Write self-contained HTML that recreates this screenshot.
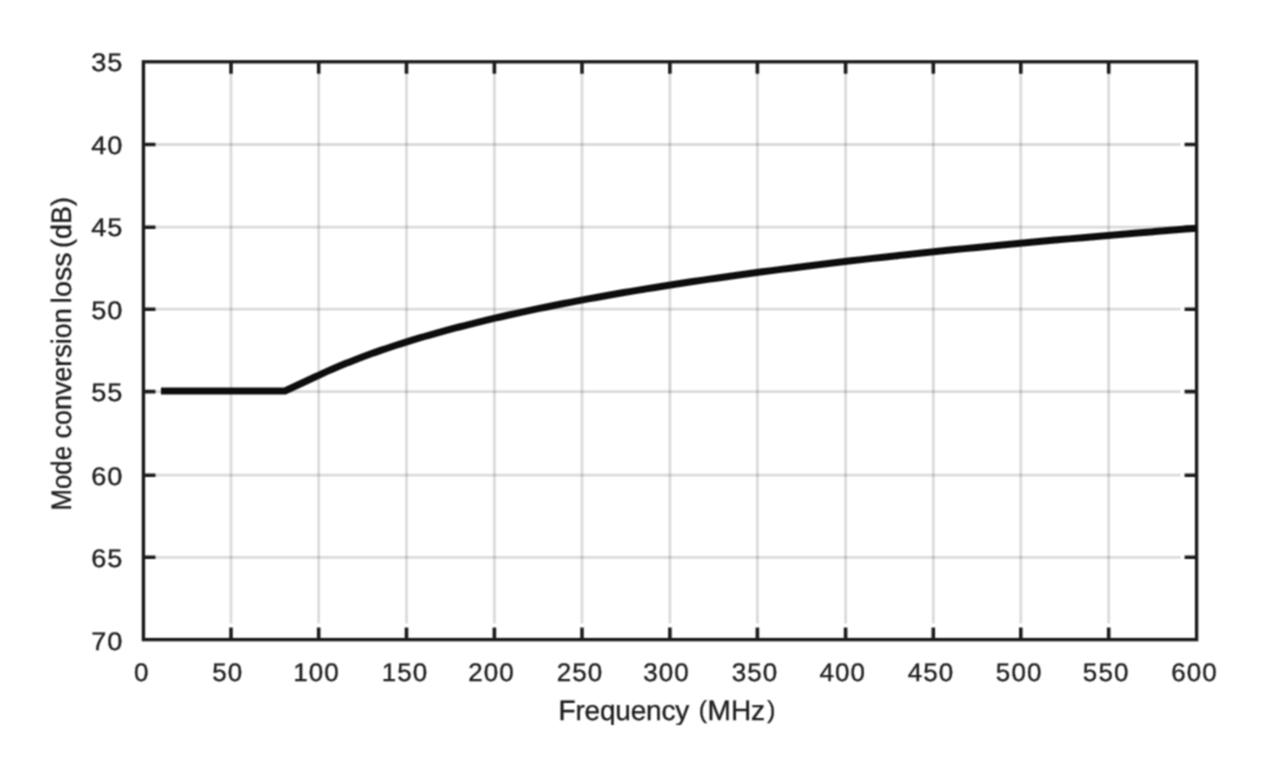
<!DOCTYPE html><html><head><meta charset="utf-8"><style>html,body{margin:0;padding:0;background:#fff;overflow:hidden}svg{display:block;font-family:"Liberation Sans",sans-serif}</style></head><body><svg width="1265" height="767" viewBox="0 0 1265 767"><defs><filter id="b" x="0" y="0" width="1265" height="767" filterUnits="userSpaceOnUse"><feConvolveMatrix order="3" kernelMatrix="1 2 1 2 4 2 1 2 1" divisor="16" edgeMode="none"/></filter></defs><rect width="1265" height="767" fill="#fff"/><g filter="url(#b)"><path d="M231.00 61.80V623.60" stroke="#000" stroke-opacity="0.14" stroke-width="2.8" fill="none"/><path d="M318.70 61.80V623.60" stroke="#000" stroke-opacity="0.14" stroke-width="2.8" fill="none"/><path d="M406.50 61.80V623.60" stroke="#000" stroke-opacity="0.14" stroke-width="2.8" fill="none"/><path d="M494.40 61.80V623.60" stroke="#000" stroke-opacity="0.14" stroke-width="2.8" fill="none"/><path d="M582.00 61.80V623.60" stroke="#000" stroke-opacity="0.14" stroke-width="2.8" fill="none"/><path d="M669.90 61.80V623.60" stroke="#000" stroke-opacity="0.14" stroke-width="2.8" fill="none"/><path d="M757.40 61.80V623.60" stroke="#000" stroke-opacity="0.14" stroke-width="2.8" fill="none"/><path d="M845.60 61.80V623.60" stroke="#000" stroke-opacity="0.14" stroke-width="2.8" fill="none"/><path d="M933.30 61.80V623.60" stroke="#000" stroke-opacity="0.14" stroke-width="2.8" fill="none"/><path d="M1020.80 61.80V623.60" stroke="#000" stroke-opacity="0.14" stroke-width="2.8" fill="none"/><path d="M1108.70 61.80V623.60" stroke="#000" stroke-opacity="0.14" stroke-width="2.8" fill="none"/><path d="M143.44 144.50H1180.60" stroke="#000" stroke-opacity="0.14" stroke-width="2.8" fill="none"/><path d="M143.44 227.20H1180.60" stroke="#000" stroke-opacity="0.14" stroke-width="2.8" fill="none"/><path d="M143.44 309.20H1180.60" stroke="#000" stroke-opacity="0.14" stroke-width="2.8" fill="none"/><path d="M143.44 391.60H1180.60" stroke="#000" stroke-opacity="0.14" stroke-width="2.8" fill="none"/><path d="M143.44 475.20H1180.60" stroke="#000" stroke-opacity="0.14" stroke-width="2.8" fill="none"/><path d="M143.44 557.30H1180.60" stroke="#000" stroke-opacity="0.14" stroke-width="2.8" fill="none"/><path d="M231.00 61.80v12M231.00 639.60v-12M318.70 61.80v12M318.70 639.60v-12M406.50 61.80v12M406.50 639.60v-12M494.40 61.80v12M494.40 639.60v-12M582.00 61.80v12M582.00 639.60v-12M669.90 61.80v12M669.90 639.60v-12M757.40 61.80v12M757.40 639.60v-12M845.60 61.80v12M845.60 639.60v-12M933.30 61.80v12M933.30 639.60v-12M1020.80 61.80v12M1020.80 639.60v-12M1108.70 61.80v12M1108.70 639.60v-12M143.44 144.50h12M1196.60 144.50h-12M143.44 227.20h12M1196.60 227.20h-12M143.44 309.20h12M1196.60 309.20h-12M143.44 391.60h12M1196.60 391.60h-12M143.44 475.20h12M1196.60 475.20h-12M143.44 557.30h12M1196.60 557.30h-12" stroke="#1f1f1f" stroke-width="3.6" fill="none"/><rect x="143.44" y="61.80" width="1053.16" height="577.80" stroke="#1f1f1f" stroke-width="3.4" fill="none"/><path d="M160.99 391.00 L284.91 391.00 L315.46 376.77 L318.04 375.55 L320.66 374.33 L323.31 373.11 L326.01 371.89 L328.75 370.67 L331.53 369.45 L334.35 368.23 L337.21 367.01 L340.12 365.79 L343.07 364.57 L346.07 363.35 L349.11 362.13 L352.19 360.91 L355.32 359.69 L358.50 358.47 L361.73 357.25 L365.00 356.03 L368.32 354.81 L371.70 353.58 L375.12 352.36 L378.60 351.14 L382.12 349.92 L385.70 348.70 L389.34 347.48 L393.03 346.26 L396.77 345.04 L400.57 343.82 L404.43 342.60 L408.34 341.38 L412.32 340.16 L416.35 338.94 L420.44 337.72 L424.60 336.50 L428.81 335.28 L433.09 334.06 L437.44 332.84 L441.85 331.62 L446.33 330.40 L450.87 329.18 L455.48 327.96 L460.16 326.74 L464.91 325.52 L469.73 324.30 L474.63 323.08 L479.60 321.85 L484.64 320.63 L489.76 319.41 L494.95 318.19 L500.22 316.97 L505.58 315.75 L511.01 314.53 L516.52 313.31 L522.12 312.09 L527.80 310.87 L533.56 309.65 L539.41 308.43 L545.35 307.21 L551.38 305.99 L557.50 304.77 L563.71 303.55 L570.02 302.33 L576.42 301.11 L582.91 299.89 L589.50 298.67 L596.19 297.45 L602.98 296.23 L609.88 295.01 L616.87 293.79 L623.98 292.57 L631.18 291.35 L638.50 290.12 L645.93 288.90 L653.46 287.68 L661.11 286.46 L668.88 285.24 L676.76 284.02 L684.76 282.80 L692.88 281.58 L701.12 280.36 L709.49 279.14 L717.98 277.92 L726.60 276.70 L735.34 275.48 L744.22 274.26 L753.23 273.04 L762.38 271.82 L771.66 270.60 L781.09 269.38 L790.65 268.16 L800.36 266.94 L810.21 265.72 L820.22 264.50 L830.37 263.28 L840.67 262.06 L851.13 260.84 L861.75 259.62 L872.52 258.39 L883.46 257.17 L894.56 255.95 L905.82 254.73 L917.26 253.51 L928.87 252.29 L940.65 251.07 L952.61 249.85 L964.74 248.63 L977.06 247.41 L989.57 246.19 L1002.26 244.97 L1015.14 243.75 L1028.22 242.53 L1041.49 241.31 L1054.96 240.09 L1068.63 238.87 L1082.51 237.65 L1096.60 236.43 L1110.89 235.21 L1125.41 233.99 L1140.13 232.77 L1155.09 231.55 L1170.26 230.33 L1185.66 229.11 L1196.60 228.25" stroke="#111111" stroke-width="7.0" fill="none" stroke-linejoin="round"/><g font-family="Liberation Sans, sans-serif" font-size="25.6" fill="#1e1e1e" stroke="#1e1e1e" stroke-width="0.35" text-rendering="geometricPrecision"><text transform="translate(123.25 71.25) scale(1.06 1)" text-anchor="end" letter-spacing="0.9">35</text><text transform="translate(123.25 153.88) scale(1.06 1)" text-anchor="end" letter-spacing="0.9">40</text><text transform="translate(123.25 235.81) scale(1.06 1)" text-anchor="end" letter-spacing="0.9">45</text><text transform="translate(123.25 319.14) scale(1.06 1)" text-anchor="end" letter-spacing="0.9">50</text><text transform="translate(123.25 401.27) scale(1.06 1)" text-anchor="end" letter-spacing="0.9">55</text><text transform="translate(123.25 484.70) scale(1.06 1)" text-anchor="end" letter-spacing="0.9">60</text><text transform="translate(123.25 567.03) scale(1.06 1)" text-anchor="end" letter-spacing="0.9">65</text><text transform="translate(123.25 649.66) scale(1.06 1)" text-anchor="end" letter-spacing="0.9">70</text><text transform="translate(141.73 681.1) scale(1.015 1)" text-anchor="middle" letter-spacing="1.05">0</text><text transform="translate(227.83 681.1) scale(1.015 1)" text-anchor="middle" letter-spacing="1.05">50</text><text transform="translate(316.53 681.1) scale(1.015 1)" text-anchor="middle" letter-spacing="1.05">100</text><text transform="translate(405.03 681.1) scale(1.015 1)" text-anchor="middle" letter-spacing="1.05">150</text><text transform="translate(491.53 681.1) scale(1.015 1)" text-anchor="middle" letter-spacing="1.05">200</text><text transform="translate(580.03 681.1) scale(1.015 1)" text-anchor="middle" letter-spacing="1.05">250</text><text transform="translate(666.53 681.1) scale(1.015 1)" text-anchor="middle" letter-spacing="1.05">300</text><text transform="translate(755.03 681.1) scale(1.015 1)" text-anchor="middle" letter-spacing="1.05">350</text><text transform="translate(842.83 681.1) scale(1.015 1)" text-anchor="middle" letter-spacing="1.05">400</text><text transform="translate(930.93 681.1) scale(1.015 1)" text-anchor="middle" letter-spacing="1.05">450</text><text transform="translate(1019.13 681.1) scale(1.015 1)" text-anchor="middle" letter-spacing="1.05">500</text><text transform="translate(1106.13 681.1) scale(1.015 1)" text-anchor="middle" letter-spacing="1.05">550</text><text transform="translate(1194.43 681.1) scale(1.015 1)" text-anchor="middle" letter-spacing="1.05">600</text></g><defs><clipPath id="cx"><rect x="540" y="690" width="250" height="34.3"/></clipPath></defs><g font-family="Liberation Sans, sans-serif" fill="#1e1e1e" stroke="#1e1e1e" stroke-width="0.35" text-rendering="geometricPrecision" clip-path="url(#cx)"><text x="558.5" y="719.9" font-size="28.0" textLength="130.8" lengthAdjust="spacing">Frequency</text><text x="698.8" y="717.9" font-size="24.5">(</text><text x="707.6" y="719.9" font-size="28.0" textLength="57.5" lengthAdjust="spacing">MHz</text><text x="767.3" y="717.9" font-size="24.5">)</text></g><g font-family="Liberation Sans, sans-serif" fill="#1e1e1e" stroke="#1e1e1e" stroke-width="0.35" text-rendering="geometricPrecision"><text transform="translate(71.0 510.5) rotate(-90)" font-size="28.0" textLength="64.5" lengthAdjust="spacingAndGlyphs">Mode</text><text transform="translate(71.0 438.6) rotate(-90)" font-size="28.0" textLength="130.4" lengthAdjust="spacingAndGlyphs">conversion</text><text transform="translate(71.0 303.4) rotate(-90)" font-size="28.0" textLength="50.9" lengthAdjust="spacingAndGlyphs">loss</text><text transform="translate(71.0 247.9) rotate(-90)" font-size="28.0" textLength="50.8" lengthAdjust="spacingAndGlyphs">(dB)</text></g></g></svg></body></html>
